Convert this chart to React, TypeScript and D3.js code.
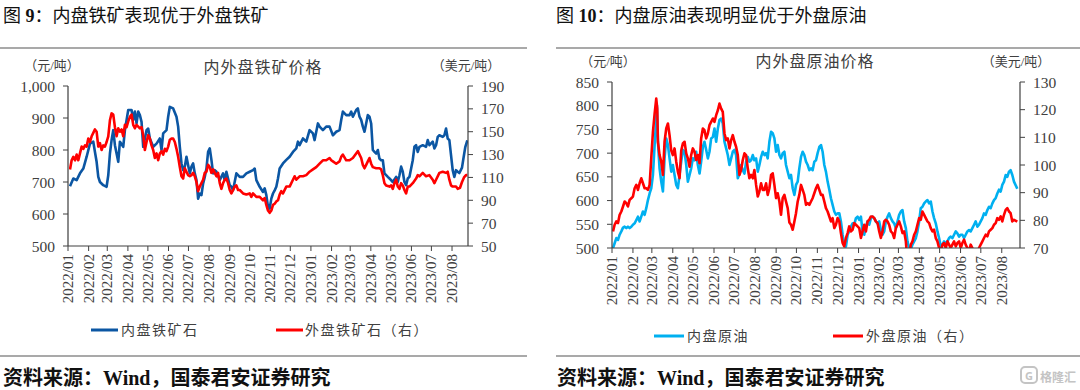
import React from "react";
import * as d3 from "d3";

const BASE = new Date(2022, 0, 1);
const dayToDate = (d: number) => new Date(BASE.getTime() + d * 86400000);

const monthTicks = d3.timeMonth.range(new Date(2022, 0, 1), new Date(2023, 7, 2));

const ironLeftTicks = [500, 600, 700, 800, 900, 1000];
const ironRightTicks = [50, 70, 90, 110, 130, 150, 170, 190];
const oilLeftTicks = [500, 550, 600, 650, 700, 750, 800, 850];
const oilRightTicks = [70, 80, 90, 100, 110, 120, 130];

// [days since 2022-01-01, value]
const ironDomestic: [number, number][] = [
  [3,687],[8,711],[13,706],[18,727],[23,742],[28,779],[33,820],[38,826],[40.5,794],[43,763],[45.5,716],[48,700],[53,690],[58,685],[60.5,721],[63,789],[65.5,831],[68,862],[70.5,815],[73,789],[75.5,763],[78,826],[83,810],[85.5,862],[90.5,925],[95.5,925],[98,894],[100.5,920],[103,883],[105.5,920],[108,909],[110.5,888],[113,810],[118,862],[120.5,867],[123,836],[128,810],[133,820],[138,836],[140.5,800],[143,852],[148,862],[150.5,904],[153,935],[158,930],[163,904],[165.5,873],[168,810],[170.5,758],[173,737],[175.5,748],[178,779],[180.5,752],[183,727],[185.5,748],[188,758],[190.5,727],[193,706],[195.5,648],[198,664],[200.5,659],[203,695],[205.5,716],[208,742],[210.5,794],[213,805],[215.5,769],[218,727],[220.5,737],[223,732],[228,706],[233,727],[235.5,706],[238,732],[243,690],[245.5,685],[248,674],[253,727],[258,716],[263,716],[268,727],[273,732],[278,737],[280.5,742],[283,706],[288,685],[293,669],[295.5,680],[298,659],[300.5,622],[303,617],[305.5,648],[308,664],[310.5,674],[313,685],[315.5,711],[318,742],[323,758],[328,769],[333,779],[338,794],[343,805],[345.5,826],[348,815],[353,836],[358,826],[363,862],[368,852],[370.5,831],[373,857],[375.5,883],[378,873],[383,862],[388,873],[393,873],[398,846],[403,857],[408,862],[410.5,894],[413,920],[418,909],[423,909],[425.5,920],[428,904],[433,925],[435.5,930],[438,904],[440.5,894],[443,873],[445.5,857],[448,883],[450.5,909],[453,904],[455.5,883],[458,800],[460.5,794],[463,789],[465.5,800],[468,773],[470.5,768],[473,768],[475.5,727],[480.5,716],[483,711],[488,700],[493,716],[495.5,700],[498,721],[500.5,748],[503,732],[505.5,700],[508,690],[510.5,711],[513,716],[518,768],[520.5,810],[523,815],[525.5,794],[528,810],[533,815],[538,810],[540.5,831],[543,815],[548,826],[550.5,805],[553,815],[555.5,841],[558,846],[563,841],[565.5,846],[568,867],[570.5,836],[573,831],[575.5,784],[578,737],[580.5,716],[583,737],[585.5,732],[588,728],[592,745],[594,772],[597,810],[600,830]
];

const ironForeign: [number, number][] = [
  [3,117],[5.5,125],[8,128],[10.5,125],[13,130],[15.5,125],[18,131],[20.5,137],[23,135],[25.5,138],[28,137],[30.5,144],[33,141],[35.5,146],[38,149],[40.5,152],[43,150],[45.5,137],[48,140],[50.5,134],[53,138],[55.5,137],[58,141],[60.5,146],[63,160],[65.5,166],[68,165],[70.5,154],[73,146],[75.5,153],[78,150],[80.5,152],[83,146],[85.5,156],[88,154],[90.5,159],[93,163],[95.5,165],[98,156],[100.5,153],[103,156],[108,153],[110.5,154],[113,147],[115.5,134],[118,141],[120.5,147],[123,144],[125.5,138],[128,134],[130.5,127],[133,131],[135.5,125],[138,131],[140.5,133],[143,130],[145.5,135],[148,133],[150.5,137],[153,143],[155.5,144],[158,144],[160.5,141],[163,135],[165.5,128],[168,119],[170.5,111],[173,109],[175.5,118],[178,115],[180.5,112],[183,111],[185.5,112],[188,114],[190.5,111],[193,106],[195.5,98],[198,102],[200.5,105],[203,108],[205.5,114],[208,115],[210.5,121],[213,119],[215.5,114],[218,117],[220.5,114],[223,111],[225.5,114],[228,105],[230.5,100],[233,105],[235.5,108],[238,109],[240.5,105],[243,99],[245.5,96],[248,99],[250.5,102],[253,103],[255.5,99],[258,99],[263,96],[268,95],[273,96],[275.5,93],[278,96],[283,93],[288,93],[293,90],[295.5,92],[298,86],[300.5,81],[303,79],[305.5,81],[308,86],[310.5,87],[313,89],[315.5,90],[318,95],[320.5,98],[323,96],[328,102],[333,102],[338,108],[340.5,111],[343,108],[348,111],[353,111],[358,112],[363,115],[368,117],[373,119],[378,122],[383,125],[388,125],[393,127],[395.5,125],[398,124],[403,122],[408,124],[410.5,128],[413,130],[418,125],[423,125],[428,127],[433,131],[435.5,133],[438,130],[440.5,127],[443,121],[445.5,118],[448,121],[450.5,124],[453,127],[455.5,122],[458,119],[463,118],[468,118],[470.5,117],[473,112],[475.5,105],[478,103],[483,102],[485.5,103],[488,100],[490.5,105],[493,108],[495.5,102],[498,100],[500.5,105],[503,103],[505.5,99],[508,96],[510.5,102],[513,102],[518,105],[523,109],[525.5,112],[528,111],[533,114],[538,111],[543,112],[548,108],[550.5,105],[553,108],[558,114],[563,115],[568,114],[570.5,115],[573,108],[575.5,103],[578,102],[583,102],[585.5,100],[589,101],[592,106],[595,110],[598,112],[600,112]
];

const oilDomestic: [number, number][] = [
  [1.5,500],[3.9,510],[6.4,521],[8.9,517],[11.3,528],[13.8,535],[16.3,543],[18.7,545],[21.2,542],[23.6,545],[26.1,542],[28.6,545],[31,549],[33.5,552],[36,559],[38.4,566],[40.9,556],[43.3,566],[45.8,577],[48.3,570],[50.7,584],[53.2,601],[55.7,615],[58.1,626],[60.6,654],[63.1,717],[65.5,773],[66.5,801],[68,724],[70.4,668],[72.9,640],[75.4,619],[77.8,689],[80.3,731],[82.8,717],[85.2,689],[87.7,661],[90.1,675],[92.6,654],[95.1,633],[97.5,626],[100,654],[102.5,682],[104.9,707],[107.4,703],[109.9,675],[112.3,640],[114.8,654],[117.2,668],[119.7,689],[122.2,685],[124.6,703],[127.1,675],[129.6,657],[132,682],[134.5,713],[136.9,724],[139.4,707],[141.9,689],[144.3,703],[146.8,731],[149.3,734],[151.7,752],[154.2,724],[156.7,752],[159.1,770],[161.6,773],[164,763],[166.5,724],[169,710],[171.4,696],[173.9,675],[176.4,689],[178.8,703],[181.3,707],[183.7,696],[186.2,647],[188.7,657],[191.1,675],[193.6,664],[196.1,657],[198.5,682],[201,692],[203.4,682],[205.9,685],[208.4,696],[210.8,685],[213.3,689],[215.8,661],[218.2,675],[220.7,692],[223.2,703],[225.6,696],[228.1,700],[230.5,689],[233,724],[235.5,745],[237.9,742],[240.4,731],[242.9,703],[245.3,717],[247.8,696],[250.2,689],[252.7,700],[255.2,703],[257.6,675],[260.1,661],[262.6,647],[265,654],[267.5,626],[270,612],[272.4,633],[274.9,640],[277.3,668],[279.8,692],[282.3,703],[284.7,696],[287.2,682],[289.7,675],[292.1,664],[294.6,668],[297,664],[299.5,682],[302,685],[304.4,700],[306.9,713],[309.4,717],[311.8,703],[314.3,675],[316.7,661],[319.2,640],[321.7,623],[324.1,605],[326.6,591],[329.1,577],[331.5,570],[334,573],[336.5,573],[338.9,556],[341.4,528],[343.8,507],[346.3,503],[348.8,528],[351.2,535],[353.7,545],[356.2,552],[358.6,549],[361.1,563],[363.5,566],[366,559],[368.5,566],[370.9,535],[373.4,528],[375.9,545],[378.3,556],[380.8,549],[383.3,563],[385.7,566],[388.2,563],[390.6,556],[393.1,552],[395.6,556],[398,538],[400.5,528],[403,535],[405.4,556],[407.9,566],[410.3,573],[412.8,563],[415.3,556],[417.7,552],[420.2,542],[422.7,556],[425.1,570],[427.6,577],[430,580],[432.5,556],[435,542],[437.4,514],[439.9,500],[442.4,497],[444.8,507],[447.3,514],[449.8,521],[452.2,535],[454.7,556],[457.1,584],[459.6,587],[462.1,594],[464.5,598],[467,601],[469.5,594],[471.9,598],[474.4,577],[476.8,563],[479.3,552],[481.8,535],[484.2,521],[486.7,503],[489.2,507],[491.6,514],[494.1,510],[496.6,514],[499,521],[501.5,524],[503.9,521],[506.4,528],[508.9,535],[511.3,531],[513.8,524],[516.3,528],[518.7,528],[521.2,521],[523.6,528],[526.1,535],[528.6,538],[531,535],[533.5,542],[536,549],[538.4,556],[540.9,545],[543.3,549],[545.8,556],[548.3,563],[550.7,573],[553.2,570],[555.7,580],[558.1,587],[560.6,584],[563.1,594],[565.5,601],[568,605],[570.4,615],[572.9,623],[575.4,619],[577.8,633],[580.3,640],[582.8,654],[585.2,650],[587.7,661],[590.1,664],[592.6,654],[595.1,640],[600,625]
];

const oilForeign: [number, number][] = [
  [1.5,76],[3.9,78.4],[6.4,79.6],[8.9,79],[11.3,82],[13.8,83.2],[16.3,85],[18.7,86.8],[21.2,86.2],[23.6,85],[26.1,87.4],[28.6,88],[31,88.6],[33.5,91.6],[36,92.8],[38.4,91],[40.9,93.4],[43.3,95.2],[45.8,93.4],[48.3,91.6],[50.7,91.6],[53.2,91],[55.7,92.8],[58.1,102.4],[60.6,112],[63.1,118.6],[65.5,124],[67,120.4],[68,108.4],[70.4,103.6],[72.9,101.2],[75.4,96.4],[77.8,108.4],[80.3,113.2],[82.8,115],[85.2,110.8],[87.7,105.2],[90.1,103.6],[92.6,106],[95.1,101.2],[97.5,97.6],[100,95.2],[102.5,105.2],[104.9,107.8],[107.4,108.4],[109.9,104.2],[112.3,102.4],[114.8,99.4],[117.2,103.6],[119.7,106],[122.2,104.8],[124.6,101.8],[127.1,103.6],[129.6,100.6],[132,109.6],[134.5,113.2],[136.9,112.6],[139.4,109.6],[141.9,111.4],[144.3,114.4],[146.8,115.6],[149.3,116.8],[151.7,115.6],[154.2,118],[156.7,119.8],[159.1,122.2],[161.6,120.4],[164,119.2],[166.5,111.4],[169,109],[171.4,109.6],[173.9,106],[176.4,109],[178.8,110.8],[181.3,108.4],[183.7,106.6],[186.2,103.6],[188.7,96.4],[191.1,98.2],[193.6,101.8],[196.1,104.2],[198.5,103.6],[201,98.8],[203.4,95.2],[205.9,96.4],[208.4,95.2],[210.8,98.2],[213.3,92.8],[215.8,88.6],[218.2,90.4],[220.7,93.4],[223.2,91],[225.6,91],[228.1,93.4],[230.5,89.2],[233,91.6],[235.5,96.4],[237.9,97],[240.4,92.8],[242.9,88],[245.3,89.8],[247.8,86.8],[250.2,82],[252.7,88],[255.2,89.2],[257.6,86.8],[260.1,84.4],[262.6,79.2],[265,78.4],[267.5,76.6],[270,79.6],[272.4,82.6],[274.9,86.8],[277.3,89.2],[279.8,92.8],[282.3,91],[284.7,89.2],[287.2,85.6],[289.7,86.2],[292.1,85.6],[294.6,86.8],[297,88],[299.5,89.8],[302,91.6],[304.4,92.8],[306.9,91],[309.4,89.2],[311.8,89.2],[314.3,86.8],[316.7,84.4],[319.2,83.2],[321.7,81.4],[324.1,79.6],[326.6,80.8],[329.1,77.2],[331.5,78.4],[334,80.8],[336.5,79.6],[338.9,75.4],[341.4,71.8],[343.8,70.6],[346.3,73.6],[348.8,75.4],[351.2,77.8],[353.7,76],[356.2,76.6],[358.6,79],[361.1,78.4],[363.5,77.8],[366,77.2],[368.5,73.6],[370.9,76],[373.4,78.4],[375.9,76],[378.3,79.6],[380.8,80.2],[383.3,81.4],[385.7,81.4],[388.2,80.8],[390.6,79.6],[393.1,79],[395.6,76],[398,73.6],[400.5,76],[403,79.6],[405.4,80.2],[407.9,79.6],[410.3,78.4],[412.8,76],[415.3,75.4],[417.7,73.6],[420.2,77.2],[422.7,78.4],[425.1,79.6],[427.6,77.8],[430,75.4],[432.5,76],[435,72.4],[437.4,65],[439.9,67.6],[442.4,71.2],[444.8,72.4],[447.3,74.8],[449.8,76],[452.2,78.4],[454.7,80.8],[457.1,80.2],[459.6,83.2],[462.1,82],[464.5,80.8],[467,79.6],[469.5,79],[471.9,77.2],[474.4,76],[476.8,76.6],[479.3,73.6],[481.8,72.4],[484.2,70],[486.7,68.8],[489.2,71.2],[491.6,71.8],[494.1,70],[496.6,72.4],[499,71.2],[501.5,70],[503.9,71.2],[506.4,72.4],[508.9,70.6],[511.3,71.8],[513.8,72.4],[516.3,70],[518.7,71.8],[521.2,73],[523.6,71.2],[526.1,70],[528.6,68.8],[531,71.2],[533.5,70],[536,67.6],[538.4,68.8],[540.9,68.8],[543.3,70],[545.8,71.2],[548.3,72.4],[550.7,73.6],[553.2,74.8],[555.7,74.2],[558.1,76],[560.6,76.6],[563.1,77.2],[565.5,78.4],[568,79],[570.4,80.8],[572.9,80.2],[575.4,81.4],[577.8,79.6],[580.3,82],[582.8,83.8],[585.2,84.4],[587.7,83.2],[590.1,82.6],[592.6,79.6],[595.1,80.2],[600,79.5]
];

const SERIF = "'Liberation Serif', 'Times New Roman', serif";
const CJK = "'Liberation Serif', 'Noto Sans CJK SC', sans-serif";
const TXT = "#404040";

type PanelProps = {
  id: string;
  x0: number; x1: number; endDay: number;
  yTop: number; yBottom: number;
  leftDomain: [number, number]; rightDomain: [number, number];
  leftTicks: number[]; rightTicks: number[];
  leftData: [number, number][]; rightData: [number, number][];
  leftColor: string; rightColor: string;
  leftAxisColor: string; leftAxisWidth: number;
  leftFormat: (v: number) => string;
};

function Panel(p: PanelProps) {
  const x = d3.scaleTime().domain([BASE, dayToDate(p.endDay)]).range([p.x0, p.x1]);
  const yL = d3.scaleLinear().domain(p.leftDomain).range([p.yBottom, p.yTop]);
  const yR = d3.scaleLinear().domain(p.rightDomain).range([p.yBottom, p.yTop]);
  const lineL = d3.line<[number, number]>().x(d => x(dayToDate(d[0]))).y(d => yL(d[1]));
  const lineR = d3.line<[number, number]>().x(d => x(dayToDate(d[0]))).y(d => yR(d[1]));
  const fmt = d3.timeFormat("%Y/%m");
  return (
    <g>
      <defs>
        <clipPath id={p.id}>
          <rect x={p.x0} y={p.yTop - 20} width={p.x1 - p.x0} height={p.yBottom - p.yTop + 20} />
        </clipPath>
      </defs>
      <g clipPath={`url(#${p.id})`}>
        <path d={lineL(p.leftData) || ""} fill="none" stroke={p.leftColor} strokeWidth={2.6} strokeLinejoin="round" />
        <path d={lineR(p.rightData) || ""} fill="none" stroke={p.rightColor} strokeWidth={2.6} strokeLinejoin="round" />
      </g>
      <line x1={p.x0} x2={p.x0} y1={p.yTop} y2={p.yBottom} stroke={p.leftAxisColor} strokeWidth={p.leftAxisWidth} />
      {p.leftTicks.map(t => (
        <g key={"l" + t}>
          <line x1={p.x0 - 5} x2={p.x0} y1={yL(t)} y2={yL(t)} stroke="#404040" strokeWidth={1} />
          <text x={p.x0 - 13} y={yL(t)} textAnchor="end" dominantBaseline="central" fontFamily={SERIF} fontSize={15.5} fill={TXT}>{p.leftFormat(t)}</text>
        </g>
      ))}
      <line x1={p.x1} x2={p.x1} y1={p.yTop} y2={p.yBottom} stroke="#404040" strokeWidth={1.2} />
      {p.rightTicks.map(t => (
        <g key={"r" + t}>
          <line x1={p.x1} x2={p.x1 + 5} y1={yR(t)} y2={yR(t)} stroke="#404040" strokeWidth={1} />
          <text x={p.x1 + 13} y={yR(t)} textAnchor="start" dominantBaseline="central" fontFamily={SERIF} fontSize={15.5} fill={TXT}>{t}</text>
        </g>
      ))}
      <line x1={p.x0} x2={p.x1} y1={p.yBottom} y2={p.yBottom} stroke="#404040" strokeWidth={1.2} />
      {monthTicks.map(m => (
        <g key={m.getTime()}>
          <line x1={x(m)} x2={x(m)} y1={p.yBottom} y2={p.yBottom + 5} stroke="#404040" strokeWidth={1} />
          <text transform={`translate(${x(m)},${p.yBottom + 8}) rotate(-90)`} textAnchor="end" dominantBaseline="central" fontFamily={SERIF} fontSize={15} fill={TXT}>{fmt(m)}</text>
        </g>
      ))}
    </g>
  );
}

export default function App() {
  return (
    <svg width={1080} height={390} viewBox="0 0 1080 390" style={{ position: "absolute", left: 0, top: 0, background: "#fff" }}>
      <rect x={0} y={0} width={1080} height={390} fill="#fff" />
      <text x={3} y={16} dominantBaseline="central" fontSize={18} fill="#111" fontFamily={CJK}>
        <tspan>图 </tspan><tspan fontFamily={SERIF} fontWeight="bold">9</tspan><tspan>：内盘铁矿表现优于外盘铁矿</tspan>
      </text>
      <text x={556} y={16} dominantBaseline="central" fontSize={18} fill="#111" fontFamily={CJK}>
        <tspan>图 </tspan><tspan fontFamily={SERIF} fontWeight="bold">10</tspan><tspan>：内盘原油表现明显优于外盘原油</tspan>
      </text>
      <line x1={0} x2={527} y1={48} y2={48} stroke="#8c8c8c" strokeWidth={1.6} />
      <line x1={556} x2={1080} y1={48} y2={48} stroke="#8c8c8c" strokeWidth={1.6} />

      <text x={263} y={67} textAnchor="middle" dominantBaseline="central" fontSize={16} fill={TXT} fontFamily={CJK} letterSpacing={1}>内外盘铁矿价格</text>
      <text x={52} y={65} textAnchor="middle" dominantBaseline="central" fontSize={13} fill={TXT} fontFamily={CJK}>（元/吨）</text>
      <text x={466} y={65} textAnchor="middle" dominantBaseline="central" fontSize={13} fill={TXT} fontFamily={CJK}>（美元/吨）</text>

      <text x={815} y={61} textAnchor="middle" dominantBaseline="central" fontSize={16} fill={TXT} fontFamily={CJK} letterSpacing={1}>内外盘原油价格</text>
      <text x={608} y={61} textAnchor="middle" dominantBaseline="central" fontSize={13} fill={TXT} fontFamily={CJK}>（元/吨）</text>
      <text x={1016} y={61} textAnchor="middle" dominantBaseline="central" fontSize={13} fill={TXT} fontFamily={CJK}>（美元/吨）</text>

      <Panel id="clipIron" x0={68} x1={468} endDay={601} yTop={86} yBottom={246}
        leftDomain={[500, 1000]} rightDomain={[50, 190]}
        leftTicks={ironLeftTicks} rightTicks={ironRightTicks}
        leftData={ironDomestic} rightData={ironForeign}
        leftColor="#0B56A3" rightColor="#FF0000"
        leftAxisColor="#8a8a8a" leftAxisWidth={2}
        leftFormat={d3.format(",")} />

      <Panel id="clipOil" x0={612} x1={1020} endDay={604} yTop={82} yBottom={248}
        leftDomain={[500, 850]} rightDomain={[70, 130]}
        leftTicks={oilLeftTicks} rightTicks={oilRightTicks}
        leftData={oilDomestic} rightData={oilForeign}
        leftColor="#00B0F0" rightColor="#FF0000"
        leftAxisColor="#404040" leftAxisWidth={1.2}
        leftFormat={d3.format("d")} />

      <line x1={91} x2={118} y1={330} y2={330} stroke="#0B56A3" strokeWidth={3} />
      <text x={121} y={330} dominantBaseline="central" fontSize={14} fill={TXT} fontFamily={CJK} letterSpacing={1.5}>内盘铁矿石</text>
      <line x1={276} x2={303} y1={330} y2={330} stroke="#FF0000" strokeWidth={3} />
      <text x={305} y={330} dominantBaseline="central" fontSize={14} fill={TXT} fontFamily={CJK} letterSpacing={1.5}>外盘铁矿石（右）</text>

      <line x1={654} x2={684} y1={336} y2={336} stroke="#00B0F0" strokeWidth={3} />
      <text x={687} y={336} dominantBaseline="central" fontSize={14} fill={TXT} fontFamily={CJK} letterSpacing={1.5}>内盘原油</text>
      <line x1={833} x2={863} y1={336} y2={336} stroke="#FF0000" strokeWidth={3} />
      <text x={866} y={336} dominantBaseline="central" fontSize={14} fill={TXT} fontFamily={CJK} letterSpacing={1.5}>外盘原油（右）</text>

      <line x1={0} x2={527} y1={356} y2={356} stroke="#8c8c8c" strokeWidth={1.6} />
      <line x1={556} x2={1080} y1={356} y2={356} stroke="#8c8c8c" strokeWidth={1.6} />

      <text x={3} y={378} dominantBaseline="central" fontSize={20} fill="#111" fontFamily={CJK} fontWeight="bold">
        资料来源：<tspan fontFamily={SERIF}>Wind</tspan>，国泰君安证券研究
      </text>
      <text x={557} y={378} dominantBaseline="central" fontSize={20} fill="#111" fontFamily={CJK} fontWeight="bold">
        资料来源：<tspan fontFamily={SERIF}>Wind</tspan>，国泰君安证券研究
      </text>

      <rect x={1021} y={367} width={16} height={16} rx={4} fill="none" stroke="#c4c4c4" strokeWidth={2} />
      <text x={1029} y={375.5} textAnchor="middle" dominantBaseline="central" fontSize={11} fill="#c4c4c4" fontFamily="'Noto Sans', sans-serif" fontWeight="bold">G</text>
      <text x={1040} y={376} dominantBaseline="central" fontSize={12} fill="#c4c4c4" fontFamily="'Noto Sans CJK SC', sans-serif" fontWeight="bold">格隆汇</text>
    </svg>
  );
}
